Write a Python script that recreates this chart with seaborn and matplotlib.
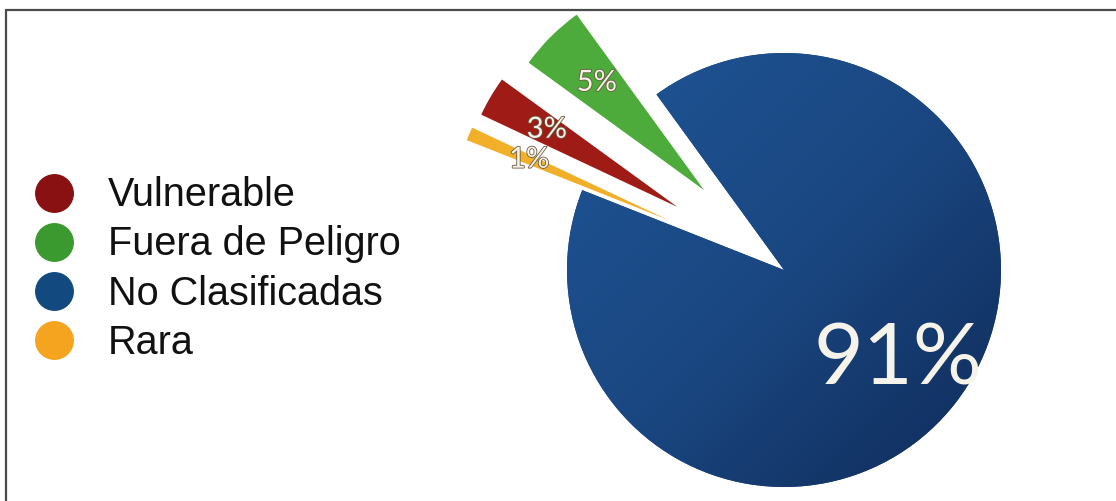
import matplotlib
matplotlib.use("Agg")
import numpy as np
import matplotlib.pyplot as plt
from matplotlib.lines import Line2D
from matplotlib.colors import LinearSegmentedColormap
import matplotlib.patheffects as pe
import seaborn as sns

# Conservation status shares (%)
categories = ["Vulnerable", "Fuera de Peligro", "No Clasificadas", "Rara"]
shares = [3, 5, 91, 1]
colors = ["#9e1b16", "#4cab3a", "#1a4a85", "#f2b02a"]
legend_colors = ["#8a1111", "#3a9a2f", "#124a80", "#f5a41f"]
explode = [0.57, 0.52, 0.0, 0.58]

# order in which the wedges are laid out around the pie
draw_order = [1, 0, 3, 2]

sns.set_theme(style="white")
plt.rcParams["font.family"] = ["Liberation Sans", "DejaVu Sans"]

fig = plt.figure(figsize=(11.16, 5.01), dpi=100)
fig.patch.set_facecolor("white")
ax = fig.add_axes([0, 0, 1, 1])

vals = [shares[i] for i in draw_order]
cols = [colors[i] for i in draw_order]
expl = [explode[i] for i in draw_order]

wedges, texts, autotexts = ax.pie(
    vals,
    colors=cols,
    explode=expl,
    startangle=126,
    counterclock=True,
    autopct=lambda p: f"{p:.0f}%",
    pctdistance=0.7,
    wedgeprops=dict(linewidth=0),
)

# diagonal shading on the large wedge: lighter upper-left, darker lower-right
big = wedges[vals.index(max(vals))]
yy, xx = np.mgrid[-1:1:200j, -1:1:200j]
grad = (xx - yy) / 2.0
shade = LinearSegmentedColormap.from_list("shade", ["#1f5596", "#1a4781", "#0f2a58"])
im = ax.imshow(grad, cmap=shade, extent=(-1.02, 1.02, -1.02, 1.02),
               origin="lower", zorder=big.get_zorder() + 0.1, interpolation="bilinear")
im.set_clip_path(big)

for t, v in zip(autotexts, vals):
    t.set_family(["Lato", "DejaVu Sans"])
    t.set_color("#f6f3ea")
    t.set_zorder(5)
    if v >= 50:
        t.set_fontsize(62)
        x, y = t.get_position()
        t.set_position((x * 0.95, y * 0.97))
    else:
        t.set_fontsize(21)
        t.set_path_effects([pe.withStroke(linewidth=1.2, foreground="#6b5a40")])

# place the pie: center and radius in figure pixels
W, H, cx, cy, R = 1116, 501, 784, 270, 217
ax.set_xlim(-cx / R, (W - cx) / R)
ax.set_ylim(-(H - cy) / R, cy / R)
ax.set_aspect("equal", adjustable="box")
ax.axis("off")

handles = [Line2D([], [], marker="o", ls="", markersize=27,
                  markerfacecolor=c, markeredgecolor=c) for c in legend_colors]
leg = fig.legend(handles, categories, loc="center left",
                 bbox_to_anchor=(0.031, 0.463), frameon=False, fontsize=28.5,
                 handlelength=1.0, handletextpad=0.85, labelspacing=0.28,
                 borderpad=0, borderaxespad=0)
for txt in leg.get_texts():
    txt.set_color("#111111")

# frame lines along top and left
fig.add_artist(Line2D([6 / W, 1], [1 - 10 / H, 1 - 10 / H],
                      color="#4a4a4a", lw=1.6, transform=fig.transFigure))
fig.add_artist(Line2D([6 / W, 6 / W], [0, 1 - 10 / H],
                      color="#4a4a4a", lw=1.6, transform=fig.transFigure))

fig.savefig("out.png", dpi=100)
